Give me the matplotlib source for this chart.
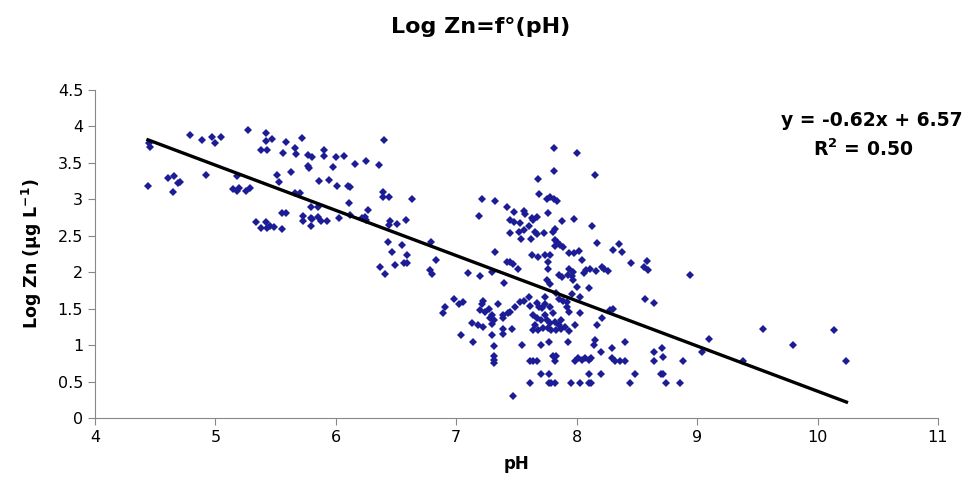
# Log Zn vs pH scatter with linear trend line

import numpy as np
import matplotlib
matplotlib.use('Agg')
import matplotlib.pyplot as plt

# sample points (pH, log Zn)
ph = [4.44, 4.45, 4.46, 4.61, 4.66, 4.69, 4.71, 4.65, 4.79, 4.89, 4.97, 5.05, 5.00, 4.92,
      5.18, 5.15, 5.18, 5.20, 5.25, 5.29, 5.27, 5.42, 5.47, 5.42, 5.59, 5.72, 5.38, 5.43,
      5.56, 5.66, 5.67, 5.51, 5.53, 5.63, 5.66, 5.70, 5.55, 5.59, 5.34, 5.38, 5.42, 5.43,
      5.45, 5.49, 5.55, 5.73, 5.73, 5.79, 5.80, 5.85, 5.88, 5.93, 5.79, 5.79, 5.85, 5.77,
      5.80, 5.90, 5.90, 6.00, 6.07, 5.77, 5.78, 5.98, 6.16, 6.25, 6.36, 6.40, 5.86, 5.94,
      6.01, 6.10, 6.12, 6.39, 6.39, 6.44, 6.63, 6.11, 6.03, 6.12, 6.27, 6.22, 6.24, 6.25,
      6.45, 6.44, 6.51, 6.58, 6.43, 6.47, 6.55, 6.59, 6.79, 6.37, 6.41, 6.49, 6.57, 6.59,
      6.83, 6.78, 6.80,
      7.21, 7.32, 7.19, 7.42, 7.32, 7.10, 7.20, 7.30, 7.42, 7.40, 6.98, 7.02, 7.06, 6.91,
      6.89, 7.22, 7.21, 7.20, 7.24, 7.27, 7.35, 7.30, 7.28, 7.31, 7.39, 7.39, 7.43, 7.13,
      7.18, 7.22, 7.30, 7.39, 7.39, 7.04, 7.30, 7.14, 7.31, 7.31, 7.31, 7.31,
      7.81, 8.00, 7.81, 8.15, 7.68, 7.69, 7.75, 7.78, 7.81, 7.84, 7.48, 7.56, 7.57, 7.45,
      7.48, 7.53, 7.64, 7.67, 7.63, 7.76, 7.88, 7.98, 7.60, 8.13, 7.45, 7.52, 7.56, 7.65,
      7.67, 7.73, 7.80, 7.82, 7.54, 7.62, 7.82, 7.84, 7.82, 7.86, 7.89, 7.63, 7.68, 7.74,
      7.78, 7.94, 7.98, 8.02, 8.04, 7.76, 7.76, 8.17, 8.30, 8.35, 8.38, 8.45, 8.58, 8.56,
      8.59, 7.94, 7.97, 7.96, 7.93, 8.06, 8.08, 8.11, 8.16, 8.21, 8.23, 8.26, 7.85, 7.88,
      7.45, 7.47, 7.51, 7.75, 7.78, 7.97, 8.00, 8.10, 7.74, 7.83, 7.85, 7.89, 7.92, 7.96,
      8.03, 7.45, 7.49, 7.53, 7.56, 7.60, 7.61, 7.67, 7.69, 7.71, 7.74, 7.78, 7.80, 7.64,
      7.67, 7.70, 7.74, 7.75, 7.78, 7.82, 7.85, 7.65, 7.64, 7.68, 7.72, 7.76, 7.79, 7.83,
      7.87, 7.90, 7.87, 7.92, 7.94, 8.03, 7.99, 7.94, 8.17, 8.21, 8.28, 8.30, 8.57, 8.64,
      7.46, 7.55, 7.70, 7.77, 7.93, 8.15, 8.14, 8.29, 8.40, 8.20, 7.61, 7.64, 7.67, 7.80,
      7.82, 7.83, 7.99, 8.01, 8.04, 8.07, 8.10, 8.12, 8.29, 8.32, 8.36, 8.40, 8.64, 8.64,
      7.70, 7.77, 8.10, 8.20, 8.48, 7.61, 7.77, 7.79, 7.82, 7.95, 8.03, 8.10, 8.12, 8.44,
      7.47,
      8.94, 8.71, 8.72, 8.70, 8.72, 8.74, 8.86, 8.88, 9.10, 9.04, 9.38, 9.55, 9.80, 10.14,
      10.24]

log_zn = [3.18, 3.78, 3.72, 3.29, 3.32, 3.23, 3.24, 3.10, 3.88, 3.82, 3.85, 3.85, 3.77, 3.33,
          3.32, 3.14, 3.11, 3.15, 3.12, 3.16, 3.95, 3.91, 3.83, 3.80, 3.79, 3.84, 3.68, 3.68,
          3.64, 3.70, 3.62, 3.33, 3.24, 3.37, 3.09, 3.09, 2.81, 2.82, 2.69, 2.61, 2.69, 2.61,
          2.64, 2.62, 2.60, 2.77, 2.70, 2.75, 2.73, 2.76, 2.70, 2.70, 2.64, 2.89, 2.89, 3.61,
          3.58, 3.68, 3.60, 3.58, 3.60, 3.46, 3.43, 3.44, 3.49, 3.53, 3.47, 3.81, 3.25, 3.26,
          3.18, 3.19, 3.17, 3.10, 3.04, 3.04, 3.00, 2.95, 2.75, 2.78, 2.85, 2.75, 2.76, 2.72,
          2.70, 2.65, 2.66, 2.72, 2.42, 2.28, 2.38, 2.24, 2.42, 2.07, 1.98, 2.10, 2.13, 2.13,
          2.17, 2.03, 1.98,
          3.00, 2.98, 2.77, 2.89, 2.28, 1.99, 1.95, 2.01, 2.14, 1.86, 1.63, 1.56, 1.60, 1.52,
          1.44, 1.61, 1.56, 1.48, 1.46, 1.50, 1.57, 1.41, 1.37, 1.34, 1.41, 1.37, 1.44, 1.30,
          1.28, 1.25, 1.29, 1.23, 1.15, 1.14, 1.14, 1.04, 0.99, 0.85, 0.80, 0.76,
          3.71, 3.64, 3.39, 3.33, 3.28, 3.07, 3.01, 3.04, 3.00, 2.98, 2.83, 2.84, 2.80, 2.72,
          2.69, 2.67, 2.72, 2.76, 2.74, 2.82, 2.71, 2.73, 2.63, 2.64, 2.54, 2.56, 2.58, 2.56,
          2.53, 2.54, 2.56, 2.59, 2.46, 2.46, 2.45, 2.42, 2.36, 2.38, 2.35, 2.24, 2.21, 2.24,
          2.24, 2.27, 2.26, 2.29, 2.17, 2.14, 2.05, 2.40, 2.31, 2.39, 2.28, 2.13, 2.15, 2.08,
          2.03, 2.05, 2.01, 1.95, 1.96, 1.99, 2.03, 2.05, 2.02, 2.08, 2.05, 2.02, 1.96, 1.94,
          2.14, 2.12, 2.04, 1.89, 1.84, 1.89, 1.80, 1.78, 1.66, 1.71, 1.64, 1.61, 1.60, 1.70,
          1.66, 1.46, 1.53, 1.60, 1.61, 1.66, 1.54, 1.58, 1.53, 1.51, 1.57, 1.52, 1.44, 1.41,
          1.37, 1.34, 1.41, 1.34, 1.31, 1.32, 1.28, 1.28, 1.21, 1.21, 1.24, 1.24, 1.21, 1.21,
          1.23, 1.25, 1.35, 1.53, 1.46, 1.44, 1.28, 1.20, 1.28, 1.37, 1.48, 1.50, 1.64, 1.58,
          1.23, 1.00, 1.00, 1.05, 1.05, 1.07, 1.00, 0.96, 1.05, 0.91, 0.79, 0.79, 0.79, 0.85,
          0.79, 0.85, 0.79, 0.83, 0.80, 0.83, 0.80, 0.83, 0.82, 0.79, 0.79, 0.79, 0.91, 0.79,
          0.60, 0.60, 0.60, 0.60, 0.60, 0.48, 0.48, 0.48, 0.48, 0.48, 0.48, 0.48, 0.48, 0.48,
          0.30,
          1.97, 0.96, 0.84, 0.60, 0.60, 0.48, 0.48, 0.79, 1.08, 0.91, 0.79, 1.23, 1.00, 1.21,
          0.79]

# trend line as reported on the chart
slope = -0.62
intercept = 6.57
r2 = 0.50

plt.rcParams['font.family'] = ['DejaVu Sans']
plt.rcParams['mathtext.fontset'] = 'dejavusans'
plt.rcParams['mathtext.default'] = 'bf'

fig = plt.figure(figsize=(9.69, 4.92), dpi=100)
ax = fig.add_axes([0.098, 0.150, 0.870, 0.667])

ax.plot(ph, log_zn, linestyle='none', marker='D', markersize=3.8,
        color='#1c1c96', markeredgewidth=0)

xs = np.array([min(ph), max(ph)])
ax.plot(xs, slope * xs + intercept, color='black', linewidth=2.4)

ax.set_xlim(4, 11)
ax.set_ylim(0, 4.5)
ax.set_xticks(range(4, 12))
ax.set_yticks(np.arange(0, 4.51, 0.5))
ax.set_yticklabels(['0', '0.5', '1', '1.5', '2', '2.5', '3', '3.5', '4', '4.5'])

for side in ['top', 'right']:
    ax.spines[side].set_visible(False)
for side in ['left', 'bottom']:
    ax.spines[side].set_color('#888888')
ax.tick_params(axis='both', direction='out', length=5, color='#888888',
               labelsize=11.5, labelcolor='black')

ax.set_xlabel('pH', fontsize=12, fontweight='bold', labelpad=7)
ax.set_ylabel('Log Zn (µg L$^{-1}$)', fontsize=12.5, fontweight='bold', labelpad=10)

fig.text(0.496, 0.945, 'Log Zn=f°(pH)', ha='center', va='center',
         fontsize=16, fontweight='bold')
fig.text(0.900, 0.755, 'y = -0.62x + 6.57', ha='center', va='center',
         fontsize=13.5, fontweight='bold')
fig.text(0.891, 0.697, 'R$^2$ = 0.50', ha='center', va='center',
         fontsize=13.5, fontweight='bold')

fig.savefig('out.png', dpi=100)
